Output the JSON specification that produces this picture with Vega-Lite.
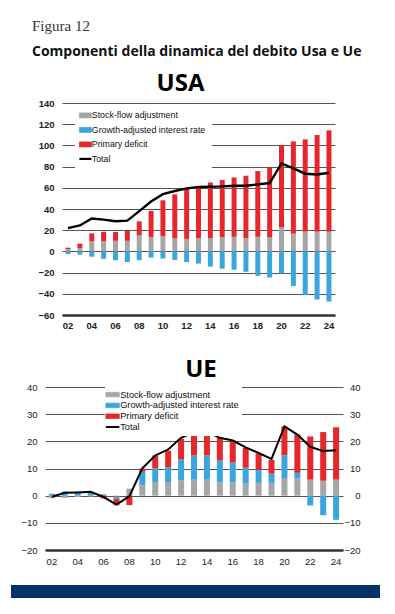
{
  "$schema": "https://vega.github.io/schema/vega-lite/v6.json",
  "background": "white",
  "padding": {"left": 11, "right": 0, "top": 19, "bottom": 14},
  "title": {
    "text": "Figura 12",
    "subtitle": "Componenti della dinamica del debito Usa e Ue",
    "anchor": "start",
    "dx": 21,
    "font": "Liberation Serif",
    "fontSize": 15,
    "fontWeight": "normal",
    "color": "#333333",
    "subtitleFont": "Open Sans",
    "subtitleFontSize": 14,
    "subtitleFontWeight": "bold",
    "subtitleColor": "#111111",
    "subtitlePadding": 11,
    "offset": 13
  },
  "datasets": {
    "usa": [
      {"yr": "02", "a": 2, "b": -2.5, "c": 1.5, "tot": 22},
      {"yr": "03", "a": 3, "b": -3, "c": 4.3, "tot": 24.5},
      {"yr": "04", "a": 9.5, "b": -5, "c": 7.5, "tot": 31},
      {"yr": "05", "a": 9.5, "b": -7, "c": 9, "tot": 30},
      {"yr": "06", "a": 10, "b": -8.3, "c": 8.3, "tot": 28.5},
      {"yr": "07", "a": 10, "b": -10, "c": 9.3, "tot": 29},
      {"yr": "08", "a": 15, "b": -8.3, "c": 13.3, "tot": 38},
      {"yr": "09", "a": 13.5, "b": -5.8, "c": 24.7, "tot": 47},
      {"yr": "10", "a": 14.3, "b": -6.7, "c": 33.9, "tot": 54},
      {"yr": "11", "a": 12.3, "b": -8, "c": 41.5, "tot": 57},
      {"yr": "12", "a": 11.8, "b": -10, "c": 47.6, "tot": 59.5},
      {"yr": "13", "a": 12.6, "b": -11.5, "c": 47.8, "tot": 60.7},
      {"yr": "14", "a": 12.6, "b": -14.4, "c": 52.4, "tot": 61},
      {"yr": "15", "a": 13.5, "b": -16.3, "c": 53.8, "tot": 61.3},
      {"yr": "16", "a": 13.8, "b": -17.3, "c": 56, "tot": 62},
      {"yr": "17", "a": 12.6, "b": -19.2, "c": 58.8, "tot": 62},
      {"yr": "18", "a": 13.8, "b": -23, "c": 62, "tot": 63.2},
      {"yr": "19", "a": 13.2, "b": -24.6, "c": 65.8, "tot": 64.5},
      {"yr": "20", "a": 22.6, "b": -21, "c": 77.7, "tot": 83},
      {"yr": "21", "a": 16.7, "b": -32.6, "c": 87.1, "tot": 78.3},
      {"yr": "22", "a": 18.6, "b": -41.2, "c": 87.1, "tot": 73.3},
      {"yr": "23", "a": 18.6, "b": -45.4, "c": 91.1, "tot": 72.6},
      {"yr": "24", "a": 18.6, "b": -47.3, "c": 95.6, "tot": 74.2}
    ],
    "ue": [
      {"yr": "02", "a": -1.0, "b": 0.7, "c": 0, "tot": -0.4},
      {"yr": "03", "a": -0.8, "b": 1.5, "c": 0, "tot": 1.1},
      {"yr": "04", "a": -0.5, "b": 1.5, "c": 0, "tot": 1.2},
      {"yr": "05", "a": -0.3, "b": 1.3, "c": 0, "tot": 1.4},
      {"yr": "06", "a": 0, "b": 0.5, "c": -1.0, "tot": -0.5},
      {"yr": "07", "a": -0.3, "b": -0.8, "c": -2.4, "tot": -3.3},
      {"yr": "08", "a": 2.6, "b": 0, "c": -3.5, "tot": -0.2},
      {"yr": "09", "a": 3.8, "b": 5.0, "c": 1.2, "tot": 10.1},
      {"yr": "10", "a": 5.0, "b": 5.1, "c": 4.7, "tot": 14.8},
      {"yr": "11", "a": 5.0, "b": 5.5, "c": 6.1, "tot": 17},
      {"yr": "12", "a": 5.7, "b": 7.6, "c": 7.6, "tot": 21.3},
      {"yr": "13", "a": 5.9, "b": 8.9, "c": 8.2, "tot": 23.4},
      {"yr": "14", "a": 5.9, "b": 8.9, "c": 8.4, "tot": 23.5},
      {"yr": "15", "a": 4.9, "b": 8.0, "c": 8.4, "tot": 21.3},
      {"yr": "16", "a": 4.9, "b": 7.3, "c": 8.1, "tot": 20.3},
      {"yr": "17", "a": 4.4, "b": 5.9, "c": 7.3, "tot": 17.8},
      {"yr": "18", "a": 4.7, "b": 4.8, "c": 6.0, "tot": 15.7},
      {"yr": "19", "a": 4.7, "b": 3.4, "c": 5.1, "tot": 13.5},
      {"yr": "20", "a": 6.5, "b": 8.4, "c": 10.6, "tot": 25.5},
      {"yr": "21", "a": 6.3, "b": 2.1, "c": 14.1, "tot": 22.5},
      {"yr": "22", "a": 5.9, "b": -3.6, "c": 15.9, "tot": 18},
      {"yr": "23", "a": 5.5, "b": -7.2, "c": 17.9, "tot": 16.4},
      {"yr": "24", "a": 5.9, "b": -8.9, "c": 19.3, "tot": 16.7}
    ]
  },
  "spacing": 15,
  "center": true,
  "resolve": {"scale": {"color": "independent"}, "legend": {"color": "independent"}},
  "vconcat": [
    {
      "width": 273,
      "height": 212,
      "data": {"name": "usa"},
      "title": {"text": "USA", "font": "Open Sans", "fontSize": 24, "fontWeight": "bold", "color": "#000000", "anchor": "middle", "dx": -18, "offset": 2},
      "resolve": {"axis": {"y": "independent"}},
      "layer": [
        {
          "transform": [{"fold": ["a", "b", "c"], "as": ["k", "v"]}],
          "mark": {"type": "bar"},
          "encoding": {
            "x": {
              "field": "yr", "type": "ordinal",
              "scale": {"paddingInner": 0.58, "paddingOuter": 0.3},
              "axis": {"title": " ", "titleY": 28, "titleBaseline": "bottom", "titleFontSize": 4, "values": ["02","04","06","08","10","12","14","16","18","20","22","24"], "labelAngle": 0, "ticks": false, "domain": true, "domainColor": "#333333", "domainWidth": 2.5, "labelPadding": 5, "grid": false, "labelFont": "Liberation Sans", "labelFontSize": 9.5, "labelFontWeight": "bold", "labelColor": "#222222"}
            },
            "y": {
              "field": "v", "type": "quantitative", "stack": "zero",
              "scale": {"domain": [-60, 140], "nice": false, "zero": false},
              "axis": {"title": " ", "titleX": -51, "titleY": 0, "titleAngle": 0, "titleAlign": "left", "titleFontSize": 4, "values": [-60,-40,-20,0,20,40,60,80,100,120,140], "labelOverlap": false, "ticks": false, "domain": false, "grid": true, "gridColor": "#555555", "gridWidth": 1.2, "labelPadding": 8, "labelFont": "Liberation Sans", "labelFontSize": 9.5, "labelFontWeight": "bold", "labelColor": "#222222"}
            },
            "color": {
              "field": "k", "type": "nominal",
              "scale": {"domain": ["a", "b", "c", "d"], "range": ["#a6a6a6", "#3aa6dd", "#e5262b", "#000000"]},
              "legend": {
                "orient": "none", "legendX": 13, "legendY": 2, "title": null,
                "fillColor": "white", "padding": 6, "strokeColor": null,
                "labelFont": "Liberation Sans", "labelFontSize": 8.8, "labelColor": "#111111",
                "labelOffset": 2, "labelLimit": 220, "symbolSize": 100, "rowPadding": 4.5,
                "labelExpr": "datum.value == 'a' ? 'Stock-flow adjustment' : datum.value == 'b' ? 'Growth-adjusted interest rate' : datum.value == 'c' ? 'Primary deficit' : 'Total'",
                "encode": {"symbols": {"update": {
                  "shape": {"signal": "datum.value === 'd' ? 'M-1.2,0H1.2' : 'M-1.2,-0.5H1.2V0.5H-1.2Z'"},
                  "stroke": {"signal": "datum.value === 'd' ? '#000000' : '#555555'"},
                  "strokeWidth": {"signal": "datum.value === 'd' ? 2.2 : 0.7"}
                }}}
              }
            },
            "order": {"field": "k", "sort": "ascending"}
          }
        },
        {
          "mark": {"type": "line", "strokeWidth": 2.4},
          "encoding": {
            "x": {"field": "yr", "type": "ordinal"},
            "y": {"field": "tot", "type": "quantitative",
              "axis": {"orient": "right", "title": " ", "titleX": 8, "titleY": 0, "titleAngle": 0, "titleAlign": "right", "titleFontSize": 4, "labels": false, "ticks": false, "domain": false, "grid": false}},
            "color": {"datum": "d"}
          }
        }
      ]
    },
    {
      "width": 298,
      "height": 163,
      "data": {"name": "ue"},
      "title": {"text": "UE", "font": "Open Sans", "fontSize": 24, "fontWeight": "bold", "color": "#000000", "anchor": "middle", "dx": 7, "offset": 0},
      "resolve": {"axis": {"y": "independent"}},
      "layer": [
        {
          "transform": [{"fold": ["a", "b", "c"], "as": ["k", "v"]}],
          "mark": {"type": "bar"},
          "encoding": {
            "x": {
              "field": "yr", "type": "ordinal",
              "scale": {"paddingInner": 0.535, "paddingOuter": 0.3},
              "axis": {"title": null, "values": ["02","04","06","08","10","12","14","16","18","20","22","24"], "labelAngle": 0, "ticks": false, "domain": true, "domainColor": "#333333", "domainWidth": 2.5, "labelPadding": 6, "grid": false, "labelFont": "Liberation Sans", "labelFontSize": 9.5, "labelColor": "#222222"}
            },
            "y": {
              "field": "v", "type": "quantitative", "stack": "zero",
              "scale": {"domain": [-20, 40], "nice": false, "zero": false},
              "axis": {"title": " ", "titleX": -34, "titleY": 0, "titleAngle": 0, "titleAlign": "left", "titleFontSize": 4, "orient": "left", "values": [-20,-10,0,10,20,30,40], "labelOverlap": false, "ticks": false, "domain": false, "grid": true, "gridColor": "#555555", "gridWidth": 1.2, "labelPadding": 8, "labelFont": "Liberation Sans", "labelFontSize": 9.5, "labelColor": "#222222"}
            },
            "color": {
              "field": "k", "type": "nominal",
              "scale": {"domain": ["a", "b", "c", "d"], "range": ["#a6a6a6", "#3aa6dd", "#e5262b", "#000000"]},
              "legend": {
                "orient": "none", "legendX": 60, "legendY": 0, "title": null,
                "fillColor": "white", "padding": 3, "strokeColor": null,
                "labelFont": "Liberation Sans", "labelFontSize": 9.2, "labelColor": "#111111",
                "labelOffset": 3, "labelLimit": 220, "symbolSize": 81, "rowPadding": 0.8,
                "labelExpr": "datum.value == 'a' ? 'Stock-flow adjustment' : datum.value == 'b' ? 'Growth-adjusted interest rate' : datum.value == 'c' ? 'Primary deficit' : 'Total'",
                "encode": {"symbols": {"update": {
                  "shape": {"signal": "datum.value === 'd' ? 'M-1.5,0H1.5' : 'M-1.5,-0.5H1.5V0.5H-1.5Z'"},
                  "stroke": {"signal": "datum.value === 'd' ? '#000000' : '#555555'"},
                  "strokeWidth": {"signal": "datum.value === 'd' ? 2 : 0.7"}
                }}}
              }
            },
            "order": {"field": "k", "sort": "ascending"}
          }
        },
        {
          "mark": {"type": "line", "strokeWidth": 2},
          "encoding": {
            "x": {"field": "yr", "type": "ordinal"},
            "y": {"field": "tot", "type": "quantitative", "axis": {"orient": "right", "title": " ", "titleX": 17, "titleY": 0, "titleAngle": 0, "titleAlign": "right", "titleFontSize": 4, "values": [-20,-10,0,10,20,30,40], "labelOverlap": false, "labelAlign": "right", "labelPadding": 17, "ticks": false, "domain": false, "grid": false, "labelFont": "Liberation Sans", "labelFontSize": 9.5, "labelColor": "#222222"}},
            "color": {"datum": "d"}
          }
        }
      ]
    },
    {
      "width": 369,
      "height": 13,
      "data": {"values": [{"v": 1}]},
      "view": {"fill": "#003366", "stroke": null},
      "mark": {"type": "rect", "color": "#003366"},
      "encoding": {
        "y": {"field": "v", "type": "quantitative", "scale": {"domain": [0, 1], "nice": false},
          "axis": {"orient": "right", "title": " ", "titleX": 14, "titleY": 0, "titleAngle": 0, "titleAlign": "right", "titleFontSize": 4, "labels": false, "ticks": false, "domain": false, "grid": false}},
        "y2": {"datum": 0}
      }
    }
  ],
  "config": {
    "view": {"stroke": null},
    "font": "Liberation Sans"
  }
}
